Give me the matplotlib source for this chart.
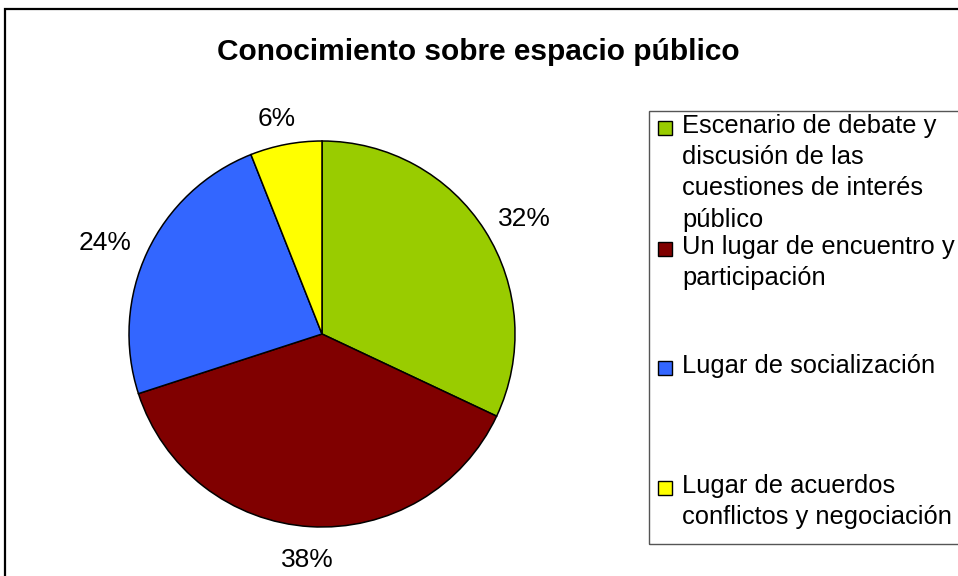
import matplotlib
matplotlib.use("Agg")
import matplotlib.pyplot as plt
from matplotlib.patches import Rectangle
import numpy as np

W, H = 958, 576

title = "Conocimiento sobre espacio público"
labels = [
    "Escenario de debate y\ndiscusión de las\ncuestiones de interés\npúblico",
    "Un lugar de encuentro y\nparticipación",
    "Lugar de socialización",
    "Lugar de acuerdos\nconflictos y negociación",
]
values = [32, 38, 24, 6]
colors = ["#99CC00", "#800000", "#3366FF", "#FFFF00"]

plt.rcParams["font.family"] = ["Liberation Sans", "DejaVu Sans"]

fig = plt.figure(figsize=(W / 100, H / 100), dpi=100)

def fx(px):
    return px / W

def fy(py):
    return 1 - py / H

# outer chart frame (cropped at right and bottom)
fig.patches.append(Rectangle((fx(5), fy(600)), fx(1000), 600 / H - 9 / H,
                             transform=fig.transFigure, fill=False,
                             edgecolor="black", linewidth=1.6))

fig.text(fx(478), fy(52), title, ha="center", va="center",
         fontsize=21.5, fontweight="bold")

# pie
cx, cy, r = 322, 334, 193
ax = fig.add_axes([fx(cx - r), fy(cy + r), 2 * r / W, 2 * r / H])
wedges, _, autotexts = ax.pie(values, colors=colors, startangle=90, counterclock=False,
                              autopct="%1.0f%%", pctdistance=1.1,
                              wedgeprops=dict(edgecolor="black", linewidth=1.1),
                              textprops=dict(fontsize=19))
ax.set_xlim(-1, 1)
ax.set_ylim(-1, 1)
ax.set_aspect("auto")
ax.axis("off")
# push labels outward by half their box, like the spreadsheet layout
for t in autotexts:
    x, y = t.get_position()
    ang = np.arctan2(y, x)
    t.set_position((x + 0.14 * np.cos(ang), y + 0.052 * np.sin(ang) - 0.02))

# legend box
fig.patches.append(Rectangle((fx(649), fy(544)), fx(400), (544 - 111) / H,
                             transform=fig.transFigure, fill=False,
                             edgecolor="#555555", linewidth=1.0))
entry_y = [128, 249, 368, 488]
for lab, col, y in zip(labels, colors, entry_y):
    fig.patches.append(Rectangle((fx(658), fy(y + 7)), 14 / W, 14 / H,
                                 transform=fig.transFigure, facecolor=col,
                                 edgecolor="black", linewidth=1.0))
    fig.text(fx(682), fy(y - 14), lab, ha="left", va="top", fontsize=18.4,
             linespacing=1.38)

fig.savefig("out.png", dpi=100)
